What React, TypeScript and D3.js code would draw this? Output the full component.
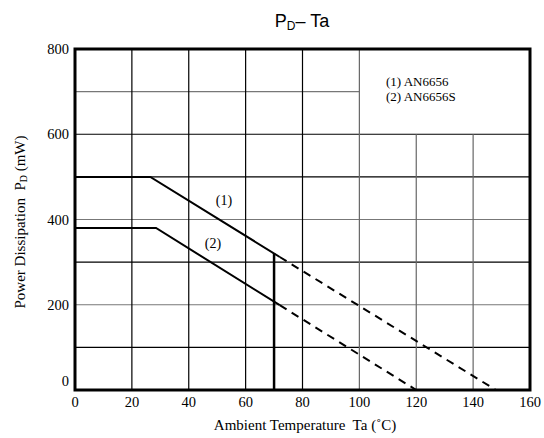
import React from "react";
import * as d3 from "d3";

const tempTicks = [0, 20, 40, 60, 80, 100, 120, 140, 160];
const powerTicks = [0, 200, 400, 600, 800];
const gridPower = [100, 200, 300, 400, 500, 600, 700];
const grayPower = [200, 400, 700];
const grayTemp = [100, 120, 140];
const legendLines = ["(1) AN6656", "(2) AN6656S"];

// derating curves
const an6656Ta = [0, 26.5, 72, 148];
const an6656Pd = [500, 500, 312, 0];
const an6656sTa = [0, 28.5, 72, 120];
const an6656sPd = [380, 380, 199, 0];
const limitTa = 70;
const limitPd = 321;

const W = 544;
const H = 438;
const margin = { top: 49, right: 14, bottom: 48, left: 75 };

export default function App() {
  const x = d3.scaleLinear().domain([0, 160]).range([margin.left, W - margin.right]);
  const y = d3.scaleLinear().domain([0, 800]).range([H - margin.bottom, margin.top]);

  const line = d3
    .line<[number, number]>()
    .x((d) => x(d[0]))
    .y((d) => y(d[1]));

  const pts = (ta: number[], pd: number[]) => ta.map((t, i) => [t, pd[i]] as [number, number]);
  const c1 = pts(an6656Ta, an6656Pd);
  const c2 = pts(an6656sTa, an6656sPd);

  const serif = "'Liberation Serif', 'Times New Roman', serif";
  const sans = "'Liberation Sans', Arial, sans-serif";

  return (
    <svg width={W} height={H} style={{ position: "absolute", left: 0, top: 0 }}>
      <rect width={W} height={H} fill="#fff" />
      {/* title */}
      <text x={302} y={27} textAnchor="middle" fontFamily={sans} fontSize={18}>
        P<tspan fontSize={12} dy={3}>D</tspan>
        <tspan dy={-3}>– Ta</tspan>
      </text>

      {/* horizontal grid */}
      {gridPower.map((p) => (
        <line
          key={"h" + p}
          x1={x(0)}
          x2={p === 700 ? x(100) : x(160)}
          y1={y(p)}
          y2={y(p)}
          stroke={grayPower.includes(p) ? "#777" : "#000"}
          strokeWidth={1.2}
        />
      ))}
      {/* vertical grid */}
      {tempTicks.slice(1, -1).map((t) => (
        <line
          key={"v" + t}
          x1={x(t)}
          x2={x(t)}
          y1={y(0)}
          y2={t > 100 ? y(600) : y(800)}
          stroke={grayTemp.includes(t) ? "#666" : "#000"}
          strokeWidth={1.2}
        />
      ))}

      {/* legend */}
      {legendLines.map((s, i) => (
        <text key={s} x={386} y={86 + i * 15} fontFamily={serif} fontSize={13}>
          {s}
        </text>
      ))}

      {/* curves */}
      <path d={line(c1.slice(0, 3)) || ""} fill="none" stroke="#000" strokeWidth={2} />
      <path d={line(c1.slice(2)) || ""} fill="none" stroke="#000" strokeWidth={2} strokeDasharray="8,6" />
      <path d={line(c2.slice(0, 3)) || ""} fill="none" stroke="#000" strokeWidth={2} />
      <path d={line(c2.slice(2)) || ""} fill="none" stroke="#000" strokeWidth={2} strokeDasharray="8,6" />
      <line x1={x(limitTa)} x2={x(limitTa)} y1={y(0)} y2={y(limitPd)} stroke="#000" strokeWidth={2.5} />

      <text x={224} y={205} textAnchor="middle" fontFamily={serif} fontSize={14}>(1)</text>
      <text x={213} y={248} textAnchor="middle" fontFamily={serif} fontSize={14}>(2)</text>

      {/* frame */}
      <rect
        x={x(0)}
        y={y(800)}
        width={x(160) - x(0)}
        height={y(0) - y(800)}
        fill="none"
        stroke="#000"
        strokeWidth={3}
      />

      {/* tick labels */}
      {powerTicks.map((p) => (
        <text
          key={"py" + p}
          x={x(0) - 6}
          y={y(p) + (p === 0 ? -4 : 5)}
          textAnchor="end"
          fontFamily={serif}
          fontSize={14.5}
        >
          {p}
        </text>
      ))}
      {tempTicks.map((t) => (
        <text key={"tx" + t} x={x(t)} y={407} textAnchor="middle" fontFamily={serif} fontSize={14.5}>
          {t}
        </text>
      ))}

      {/* axis titles */}
      <text
        x={305}
        y={430}
        textAnchor="middle"
        fontFamily={serif}
        fontSize={15}
        style={{ whiteSpace: "pre" }}
      >
        {"Ambient Temperature  Ta (˚C)"}
      </text>
      <text
        transform={`translate(25, 222) rotate(-90)`}
        textAnchor="middle"
        fontFamily={serif}
        fontSize={15}
        style={{ whiteSpace: "pre" }}
      >
        {"Power Dissipation  P"}
        <tspan fontSize={10} dy={2}>D</tspan>
        <tspan dy={-2}>{" (mW)"}</tspan>
      </text>
    </svg>
  );
}
